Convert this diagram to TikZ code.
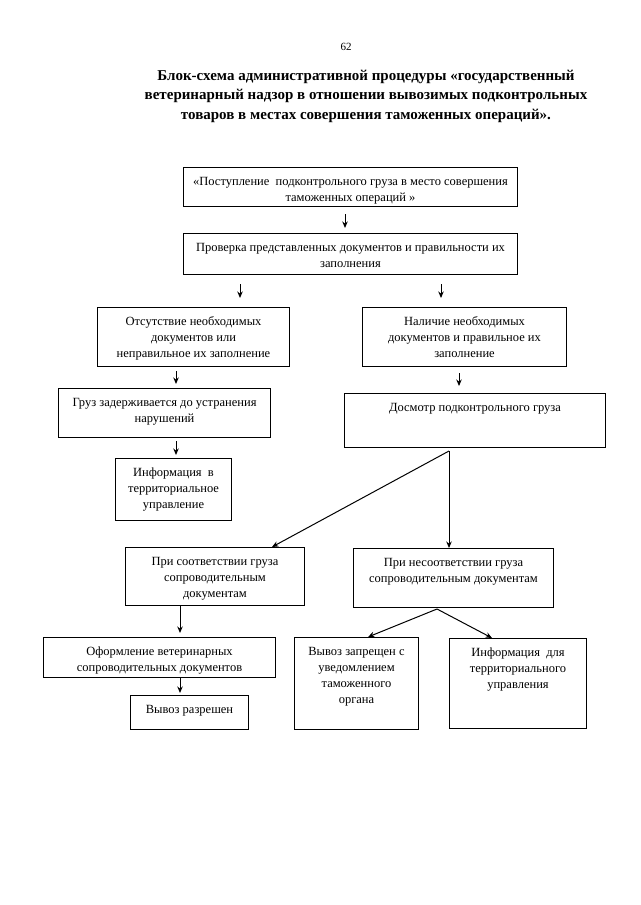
\documentclass[tikz,border=0pt]{standalone}
\usepackage{fontspec}
\setmainfont{Liberation Serif}
\usetikzlibrary{arrows.meta,calc}
\newcommand{\bxt}[3]{\parbox[c][#2pt][t]{\dimexpr#1pt-10pt\relax}{\centering\fontsize{12.5}{16}\selectfont\rule{0pt}{18pt}#3\par}}
\tikzset{
  box/.style={draw, line width=1pt, inner xsep=5pt, inner ysep=0pt, anchor=north west},
  arr/.style={line width=1pt, -{Stealth[length=6.5pt,width=5.5pt]}},
  ln/.style={line width=1pt}
}
\begin{document}
\begin{tikzpicture}[x=1pt,y=-1pt]
\useasboundingbox[fill=white] (0,0) rectangle (640,905);
\node (pg) at (346,47) {\fontsize{11}{13}\selectfont 62};
\node[align=center, font=\bfseries\fontsize{15}{19.5}\selectfont] (title) at (366,96)
 {Блок-схема административной процедуры «государственный\\
  ветеринарный надзор в отношении вывозимых подконтрольных\\
  товаров в местах совершения таможенных операций».};

\node[box] (b1) at (183,167) {\bxt{334}{39}{«Поступление\ \ подконтрольного груза в место совершения\\ таможенных операций »}};
\node[box] (b2) at (183,233) {\bxt{334}{41}{Проверка представленных документов и правильности их\\ заполнения}};
\node[box] (b3) at (97,307) {\bxt{192}{59}{Отсутствие необходимых\\ документов или\\ неправильное их заполнение}};
\node[box] (b4) at (362,307) {\bxt{204}{59}{Наличие необходимых\\ документов и правильное их\\ заполнение}};
\node[box] (b5) at (58,388) {\bxt{212}{49}{Груз задерживается до устранения\\ нарушений}};
\node[box] (b6) at (344,393) {\bxt{261}{54}{Досмотр подконтрольного груза}};
\node[box] (b7) at (115,458) {\bxt{116}{62}{Информация\ \ в\\ территориальное\\ управление}};
\node[box] (b8) at (125,547) {\bxt{179}{58}{При соответствии груза\\ сопроводительным\\ документам}};
\node[box] (b9) at (353,548) {\bxt{200}{59}{При несоответствии груза\\ сопроводительным документам}};
\node[box] (b10) at (43,637) {\bxt{232}{40}{Оформление ветеринарных\\ сопроводительных документов}};
\node[box] (b11) at (130,695) {\bxt{118}{34}{Вывоз разрешен}};
\node[box] (b12) at (294,637) {\bxt{124}{92}{Вывоз запрещен с\\ уведомлением\\ таможенного\\ органа}};
\node[box] (b13) at (449,638) {\bxt{137}{90}{Информация\ \ для\\ территориального\\ управления}};

\coordinate (x1) at (345,0);
\coordinate (x2) at (240,0);
\coordinate (x3) at (441,0);
\coordinate (x4) at (176,0);
\coordinate (x5) at (459,0);
\coordinate (x6) at (180,0);
\coordinate (x7) at (272,0);
\coordinate (x8) at (368,0);
\coordinate (x9) at (492,0);
\coordinate (s6) at (449,451);
\coordinate (s9) at (437,609);

\draw[arr, shorten <=7pt, shorten >=5pt] (b1.south -| x1) -- (b2.north -| x1);
\draw[arr, shorten <=9pt, shorten >=9pt] (b2.south -| x2) -- (b3.north -| x2);
\draw[arr, shorten <=9pt, shorten >=9pt] (b2.south -| x3) -- (b4.north -| x3);
\draw[arr, shorten <=4pt, shorten >=4pt] (b3.south -| x4) -- (b5.north -| x4);
\draw[arr, shorten <=6pt, shorten >=7pt] (b4.south -| x5) -- (b6.north -| x5);
\draw[arr, shorten <=3pt, shorten >=3pt] (b5.south -| x4) -- (b7.north -| x4);
\draw[arr] (s6) -- (b8.north -| x7);
\draw[arr] (s6) -- (b9.north -| s6);
\draw[arr, shorten >=4pt] (b8.south -| x6) -- (b10.north -| x6);
\draw[arr, shorten >=2pt] (b10.south -| x6) -- (b11.north -| x6);
\draw[arr] (s9) -- (b12.north -| x8);
\draw[arr] (s9) -- (b13.north -| x9);
\end{tikzpicture}
\end{document}
